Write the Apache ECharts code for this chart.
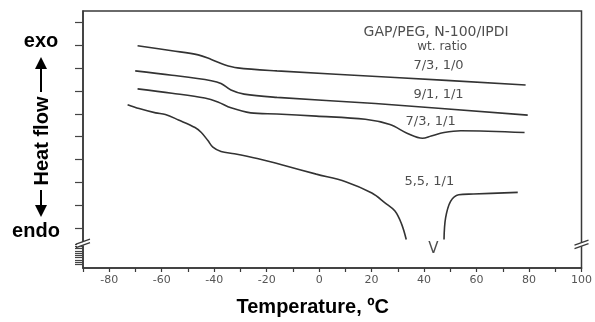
<!DOCTYPE html>
<html><head><meta charset="utf-8">
<script src="https://cdn.jsdelivr.net/npm/echarts@6/dist/echarts.min.js"></script>
<style>html,body{margin:0;padding:0;background:#fff}#c{width:595px;height:322px}</style>
</head><body><div id="c"></div>
<script>
// ---- data (temperature in ºC, heat flow in arbitrary tick units) ----
const curveA_T = [-69.2, -56.1, -46.1, -41.1, -36.1, -31.1, -16.1, 28.9, 78.7];
const curveA_V = [7.98, 7.76, 7.58, 7.38, 7.15, 7.01, 6.88, 6.59, 6.26];

const curveB_T = [-70.1, -56.1, -41.1, -37.4, -33.6, -28.6, -16.1, 21.4, 79.5];
const curveB_V = [6.88, 6.69, 6.45, 6.33, 6.04, 5.86, 5.72, 5.45, 4.94];

const curveC_T = [-69.2, -56.1, -43.6, -38.6, -33.6, -26.1, -16.1, -1.1, 17.6, 27.0, 33.7, 39.4, 42.7, 47.6, 54.0, 78.3];
const curveC_V = [6.09, 5.90, 5.69, 5.52, 5.26, 5.04, 4.99, 4.90, 4.76, 4.53, 4.14, 3.93, 4.03, 4.18, 4.26, 4.18];

const curveD1_T = [-73.0, -68.6, -62.3, -58.6, -53.6, -47.3, -44.9, -42.4, -40.5, -37.4, -32.3, -23.6, -13.6, -1.1, 10.1, 20.1, 25.1, 28.9, 31.4, 33.2];
const curveD1_V = [5.40, 5.23, 5.04, 4.97, 4.73, 4.40, 4.18, 3.83, 3.54, 3.35, 3.25, 3.04, 2.75, 2.36, 2.03, 1.53, 1.10, 0.74, 0.18, -0.50];
const curveD2_T = [47.6, 48.2, 50.1, 53.2, 58.8, 75.7];
const curveD2_V = [-0.50, 0.44, 1.17, 1.46, 1.49, 1.56];

const noteText = ['GAP/PEG, N-100/IPDI', 'wt. ratio', '7/3, 1/0', '9/1, 1/1', '7/3, 1/1', '5,5, 1/1', 'V'];
const noteT = [44.6, 46.9, 45.5, 45.5, 42.5, 42.0, 43.5];
const noteV = [8.56, 7.91, 7.12, 5.83, 4.66, 2.05, -0.91];

const yTickValues = [0, 1, 2, 3, 4, 5, 6, 7, 8, 9];
const yHatchValues = [-0.7, -0.8, -0.9, -1.0, -1.1, -1.2, -1.3, -1.4, -1.5, -1.6];
const xLabelValues = [-80, -60, -40, -20, 0, 20, 40, 60, 80, 100];

const pairs = (a, b) => a.map((t, i) => [t, b[i]]);

const chart = echarts.init(document.getElementById('c'), null, {renderer: 'canvas'});
const lineStyle = {color: '#333', width: 1.6};
const noteStyles = [
  {fontSize: 14}, {fontSize: 12}, {fontSize: 13}, {fontSize: 13}, {fontSize: 13}, {fontSize: 13}, {fontSize: 15}
];
function curve(t, v) {
  return {type: 'line', data: pairs(t, v), smooth: 0.35, showSymbol: false,
    symbol: 'none', lineStyle: lineStyle, silent: true, animation: false};
}
chart.setOption({
  animation: false,
  grid: {left: 83, right: 5, top: 11, bottom: 49, show: true, borderColor: '#3a3a3a', borderWidth: 1.5, backgroundColor: 'transparent'},
  xAxis: {
    type: 'value', min: -90, max: 100, interval: 10,
    axisLine: {show: true, onZero: false, lineStyle: {color: '#3a3a3a', width: 1.5}},
    axisTick: {show: true, inside: false, length: 4, lineStyle: {color: '#3a3a3a', width: 1.2}},
    splitLine: {show: false},
    axisLabel: {
      margin: 7, color: '#555', fontFamily: 'DejaVu Sans', fontSize: 11,
      formatter: v => xLabelValues.includes(v) ? String(v) : ''
    },
    name: 'Temperature, ºC', nameLocation: 'middle', nameGap: 29,
    nameTextStyle: {fontFamily: 'Liberation Sans', fontWeight: 'bold', fontSize: 20, color: '#000', padding: [0, 39, 0, 0]}
  },
  yAxis: [{
    type: 'value', min: -1.75, max: 9.5,
    axisLine: {show: true, onZero: false, lineStyle: {color: '#3a3a3a', width: 1.5}},
    axisTick: {show: true, inside: false, length: 8, customValues: yTickValues.concat(yHatchValues),
      lineStyle: {color: '#444', width: 1.2}},
    axisLabel: {show: false},
    splitLine: {show: false}
  }],
  series: [
    curve(curveA_T, curveA_V),
    curve(curveB_T, curveB_V),
    curve(curveC_T, curveC_V),
    curve(curveD1_T, curveD1_V),
    curve(curveD2_T, curveD2_V),
    {
      type: 'scatter', symbolSize: 0, silent: true,
      data: noteText.map((s, i) => ({
        value: [noteT[i], noteV[i]],
        label: Object.assign({show: true, position: 'inside', formatter: s,
          fontFamily: 'DejaVu Sans', color: '#222'}, noteStyles[i])
      }))
    }
  ]
});

// decorative axis-break marks and the heat-flow label, placed from the axis scales
function breakMark(t, v) {
  const p = chart.convertToPixel({gridIndex: 0}, [t, v]);
  const cx = p[0], cy = p[1];
  return [
    {type: 'polygon', shape: {points: [[cx - 6, cy + 2], [cx + 6, cy - 2.5], [cx + 6, cy + 1], [cx - 6, cy + 5.5]]},
      style: {fill: '#fff'}, z: 100},
    {type: 'line', shape: {x1: cx - 7, y1: cy + 2, x2: cx + 7, y2: cy - 3}, style: {stroke: '#3a3a3a', lineWidth: 1.3}, z: 101},
    {type: 'line', shape: {x1: cx - 7, y1: cy + 5.5, x2: cx + 7, y2: cy + 0.5}, style: {stroke: '#3a3a3a', lineWidth: 1.3}, z: 101}
  ];
}
const g = [].concat(breakMark(-90, -0.62), breakMark(100, -0.66));
const labelFont = 'bold 20px "Liberation Sans", Arial, sans-serif';
g.push(
  {type: 'text', x: 41, y: 41, style: {text: 'exo', font: labelFont, fill: '#000', align: 'center', verticalAlign: 'middle'}},
  {type: 'text', x: 36, y: 231, style: {text: 'endo', font: labelFont, fill: '#000', align: 'center', verticalAlign: 'middle'}},
  {type: 'text', x: 42, y: 141, rotation: Math.PI / 2, style: {text: 'Heat flow', font: labelFont, fill: '#000', align: 'center', verticalAlign: 'middle'}},
  {type: 'line', shape: {x1: 41, y1: 66, x2: 41, y2: 92}, style: {stroke: '#000', lineWidth: 2}},
  {type: 'polygon', shape: {points: [[41, 57], [35, 69], [47, 69]]}, style: {fill: '#000'}},
  {type: 'line', shape: {x1: 41, y1: 190, x2: 41, y2: 207}, style: {stroke: '#000', lineWidth: 2}},
  {type: 'polygon', shape: {points: [[41, 217], [35, 205], [47, 205]]}, style: {fill: '#000'}}
);
chart.setOption({graphic: g});
</script></body></html>
